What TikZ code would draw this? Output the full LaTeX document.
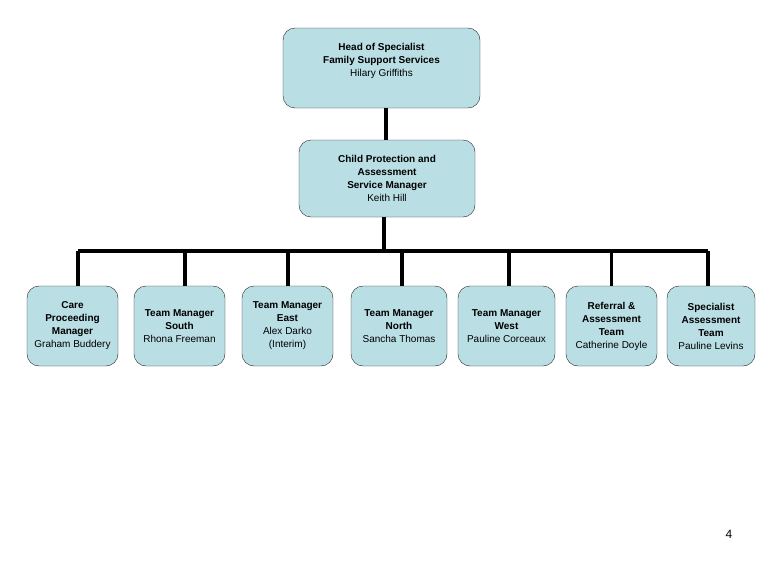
\documentclass[tikz,border=0pt]{standalone}
\usepackage{fontspec}
\setmainfont{Liberation Sans}
\definecolor{boxblue}{RGB}{185,222,228}
\tikzset{
  post/.style={draw=black!85, fill=boxblue, rounded corners=12pt, minimum height=80pt, inner sep=1pt},
  txt/.style={align=center, font=\fontsize{10}{13}\selectfont},
  link/.style={line width=3.6pt}
}
\begin{document}
\begin{tikzpicture}[x=1pt,y=-1pt]
\useasboundingbox (0,0) rectangle (780,573);
% top of the chart
\node[post, minimum width=197pt] (head) at (381.5,68) {};
\node[txt] (headtxt) at (381.5,61) {\textbf{Head of Specialist}\\\textbf{Family Support Services}\\Hilary Griffiths};
\node[post, txt, minimum width=176pt, minimum height=77pt] (cp) at (387,178.5)
  {\textbf{Child Protection and}\\\textbf{Assessment}\\\textbf{Service Manager}\\Keith Hill};

% team boxes
\node[post, txt, minimum width=91pt] (care) at (72.5,326) {\textbf{Care}\\\textbf{Proceeding}\\\textbf{Manager}\\Graham Buddery};
\node[post, txt, minimum width=91pt] (south) at (179.5,326) {\textbf{Team Manager}\\\textbf{South}\\Rhona Freeman};
\node[post, txt, minimum width=91pt] (east) at (287.5,326) {\textbf{Team Manager}\\\textbf{East}\\Alex Darko\\(Interim)};
\node[post, txt, minimum width=96pt] (north) at (399,326) {\textbf{Team Manager}\\\textbf{North}\\Sancha Thomas};
\node[post, txt, minimum width=97pt] (west) at (506.5,326) {\textbf{Team Manager}\\\textbf{West}\\Pauline Corceaux};
\node[post, txt, minimum width=91pt] (referral) at (611.5,326) {\textbf{Referral \&}\\\textbf{Assessment}\\\textbf{Team}\\Catherine Doyle};
\node[post, txt, minimum width=88pt] (specialist) at (711,326) {\textbf{Specialist}\\\textbf{Assessment}\\\textbf{Team}\\Pauline Levins};

% connectors
\coordinate (bus) at (0,251);
\draw[link] ([xshift=-1pt]cp.north |- head.south) -- ([xshift=-1pt]cp.north);
\draw[link] ([xshift=-3pt]cp.south) -- ([xshift=-3pt]cp.south |- bus);
\draw[link] ([xshift=5.5pt]care.north |- bus) -- ([xshift=-3pt]specialist.north |- bus);
\foreach \n/\dx in {care/5.5,south/5.5,east/0.5,north/3,west/2.5,referral/0,specialist/-3}
  \draw[link] ([xshift=\dx pt]\n.north) -- ([xshift=\dx pt]\n.north |- bus);

% page number
\node[font=\fontsize{12}{14}\selectfont] (pagenum) at (729,534) {4};
\end{tikzpicture}
\end{document}
